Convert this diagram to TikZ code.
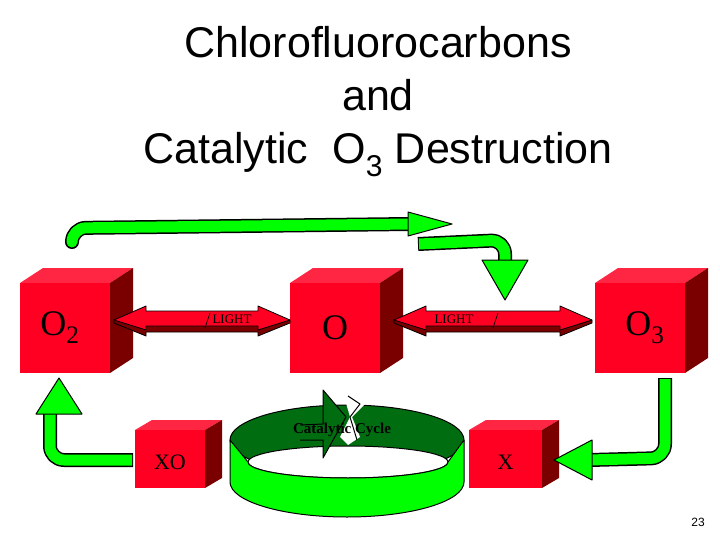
\documentclass[tikz,border=0pt]{standalone}
\usepackage{fontspec}
\setmainfont{Liberation Serif}
\newfontfamily\hsans{Liberation Sans}
\definecolor{cred}{HTML}{FF0022}
\definecolor{cdark}{HTML}{7A0000}
\definecolor{cgreen}{HTML}{00FF00}
\definecolor{dgreen}{HTML}{006E10}
\begin{document}
\begin{tikzpicture}[x=1pt,y=-1pt,line join=round,
  gline/.style={line width=14pt,black},
  gfill/.style={line width=11pt,cgreen},
  ghead/.style={fill=cgreen,draw=black,line width=1pt},
  ttl/.style={font=\hsans\fontsize{43}{43}\selectfont,inner sep=0pt,anchor=base},
  lbl/.style={font=\fontsize{13}{13}\selectfont,inner sep=0pt}]
\useasboundingbox (0,0) rectangle (720,540);
\newcommand\mycube[7]{%
  \fill[cred!85!white] (#1,#2) -- ++(#5,#6) -- ++(#3,0) -- ++(-#5,-#6) -- cycle;
  \fill[cdark] (#1+#3,#2) -- ++(#5,#6) -- ++(0,#4) -- ++(-#5,-#6) -- cycle;
  \fill[cred] (#1,#2) rectangle ++(#3,#4);
  \coordinate (#7) at (#1+#3/2,#2+#4/2);}
\node[ttl] (t1) at (378,58) {Chlorofluorocarbons};
\node[ttl] (t2) at (378,111) {and};
\node[ttl] (t3) at (378,164) {Catalytic\ \ O\textsubscript{3} Destruction};
\mycube{20}{283}{90}{90}{23}{-15}{c1}
\mycube{290}{283}{90}{90}{23}{-15}{c2}
\mycube{595}{283}{90}{90}{23}{-15}{c3}
\mycube{135}{430}{70}{58}{17}{-10}{c4}
\mycube{469}{430}{73}{58}{17}{-10}{c5}
\node[font=\fontsize{36}{36}\selectfont] (o2) at ([xshift=-5]c1) {O\textsubscript{2}};
\node[font=\fontsize{36}{36}\selectfont] (o) at (c2) {O};
\node[font=\fontsize{36}{36}\selectfont] (o3) at ([xshift=5]c3) {O\textsubscript{3}};
\node[font=\fontsize{22}{22}\selectfont] (xo) at ([yshift=-3]c4) {XO};
\node[font=\fontsize{22}{22}\selectfont] (x) at ([yshift=-3]c5) {X};
\newcommand\redarrow[2]{%
  \begin{scope}[shift={(#1,320)}]
  \def\L{#2}
  \fill[cdark,draw=black,line width=0.8pt] (0,3) -- (32,16) -- (32,12) -- (\L-32,12) -- (\L-32,16) -- (\L,3) -- (\L,0) -- (0,0)--cycle;
  \fill[cred,draw=black,line width=0.8pt] (0,0) -- (32,-14) -- (32,-9) -- (\L-32,-9) -- (\L-32,-14) -- (\L,0) -- (\L-32,10) -- (\L-32,6) -- (32,6) -- (32,10) -- cycle;
  \end{scope}}
\redarrow{114}{176}
\redarrow{394}{198}
\node[lbl] (l1) at (232,319) {LIGHT};
\node[lbl] (l2) at (454,319) {LIGHT};
\draw[line width=0.7pt] (205,328) -- (210,313);
\draw[line width=0.7pt] (493,328) -- (498,313);
\draw[gline,rounded corners=14pt] (72,240) -- (72,228) -- (410,224);
\draw[gfill,rounded corners=14pt] (72,239) -- (72,228) -- (411,224);
\draw[ghead] (408,212) -- (452,224) -- (408,236) -- cycle;
\draw[gline,rounded corners=14pt] (418,244) -- (505,240) -- (505,262);
\draw[gfill,rounded corners=14pt] (419,244) -- (505,240) -- (505,263);
\draw[ghead] (482,260) -- (505,300) -- (528,260) -- cycle;
\draw[gline,rounded corners=14pt] (133,460) -- (50,460) -- (50,412);
\draw[gfill,rounded corners=14pt] (132,460) -- (50,460) -- (50,411);
\draw[ghead] (36,414) -- (59,378) -- (82,414) -- cycle;
\draw[gline,rounded corners=14pt] (665,378) -- (665,458) -- (590,460);
\draw[gfill,rounded corners=14pt] (665,379) -- (665,458) -- (589,460);
\draw[ghead] (592,440) -- (554,460) -- (592,480) -- cycle;
% catalytic cycle
\fill[dgreen,draw=black,line width=1pt] (347,440) ellipse [x radius=117,y radius=35];
\fill[white,draw=black,line width=1pt] (348,462) ellipse [x radius=100,y radius=16];
\fill[cgreen,draw=black,line width=1pt] (230,440) -- (230,482) arc[start angle=180,end angle=0,x radius=117,y radius=35] -- (464,440) -- (448,462) arc[start angle=0,end angle=180,x radius=100,y radius=16] -- cycle;
\fill[dgreen,draw=black,line width=1pt] (300,425) -- (323,424) -- (323,390) -- (346,417) -- (323,458) -- (323,440) -- (300,440);
\fill[white] (344,396) -- (352,396) -- (365,404) -- (352,417) -- (360,437) -- (348,445) -- (340,437) -- (350,417) -- cycle;
\draw[line width=1pt] (348,396) -- (360,404) -- (350,417) -- (357,440);
\node[font=\bfseries\fontsize{15}{15}\selectfont,inner sep=0pt] (cc) at (342,430) {Catalytic Cycle};
\node[font=\hsans\fontsize{12}{12}\selectfont] (pg) at (698,522) {23};
\end{tikzpicture}
\end{document}
